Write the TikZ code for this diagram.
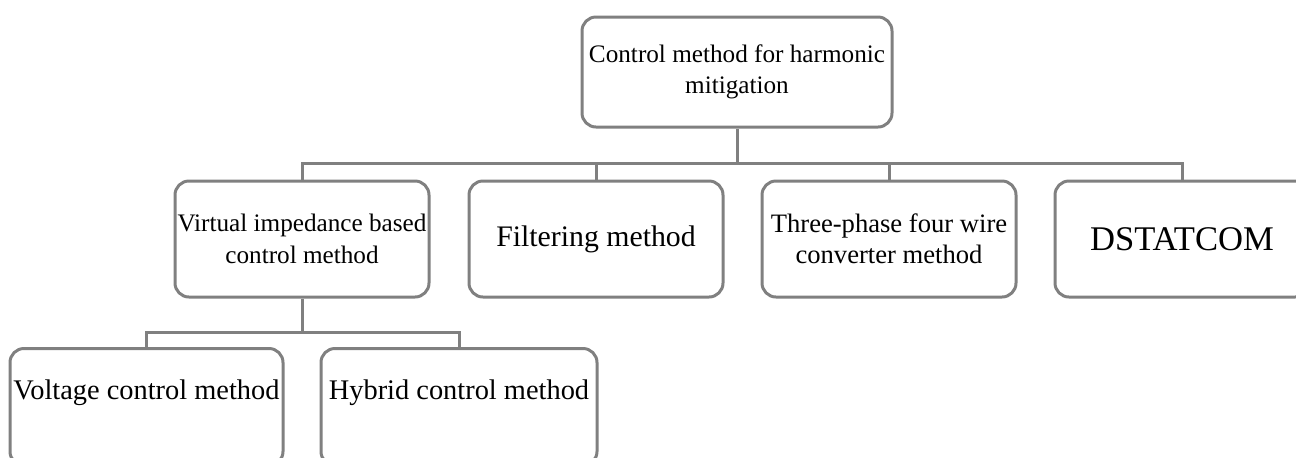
\documentclass[tikz,border=0pt]{standalone}
\usepackage{fontspec}
\setmainfont{Liberation Serif}
\usepackage{tikz}
\usetikzlibrary{positioning}
\definecolor{edge}{HTML}{808080}
\newcommand\fs[2]{\fontsize{#1}{#2}\selectfont}
\newcommand\up[1]{\raisebox{3.7pt}[0pt][0pt]{#1}}
\tikzset{
  box/.style={draw=edge,line width=1.5pt,rounded corners=7pt,align=center,inner sep=1pt},
  midbox/.style={box,minimum width=127pt,minimum height=58pt},
  lowbox/.style={box,minimum height=58.5pt,font=\fs{14.2pt}{17pt}},
  wire/.style={draw=edge,line width=1.5pt},
}

\begin{document}
\begin{tikzpicture}[x=0.5pt,y=-0.5pt]
    \useasboundingbox (0,0) rectangle (1296,457);
    \clip (0,0) rectangle (1296,457);

    \path
    (737,72) node[box,minimum width=155pt,minimum height=55pt,font=\fs{12.6pt}{15.5pt}] (top)
      {Control method for harmonic\\mitigation}
    ;

    \path
    (302,239) node[midbox,font=\fs{12.6pt}{15.8pt}] (virt) {Virtual impedance based\\control method}
    (596,239) node[midbox,font=\fs{14.9pt}{18pt}] (filt) {Filtering method}
    (889,239) node[midbox,font=\fs{13.3pt}{15.5pt}] (three) {Three-phase four wire\\converter method}
    (1182,239) node[midbox,font=\fs{17.3pt}{20pt}] (dstat) {DSTATCOM}
    ;

    \path
    (146.5,407) node[lowbox,minimum width=136.5pt] (volt) {\up{Voltage control method}}
    (459,407) node[lowbox,minimum width=138pt] (hyb) {\up{Hybrid control method}}
    ;

    \coordinate (bus) at (737,163);
    \coordinate (subbus) at (302,332);

    \draw[wire] (top.south) -- (bus);
    \draw[wire] (virt.north) |- (bus) -| (dstat.north);
    \draw[wire] (filt.north) -- (filt.north |- bus);
    \draw[wire] (three.north) -- (three.north |- bus);

    \draw[wire] (virt.south) -- (subbus);
    \draw[wire] (volt.north) |- (subbus) -| (hyb.north);
\end{tikzpicture}
\end{document}
